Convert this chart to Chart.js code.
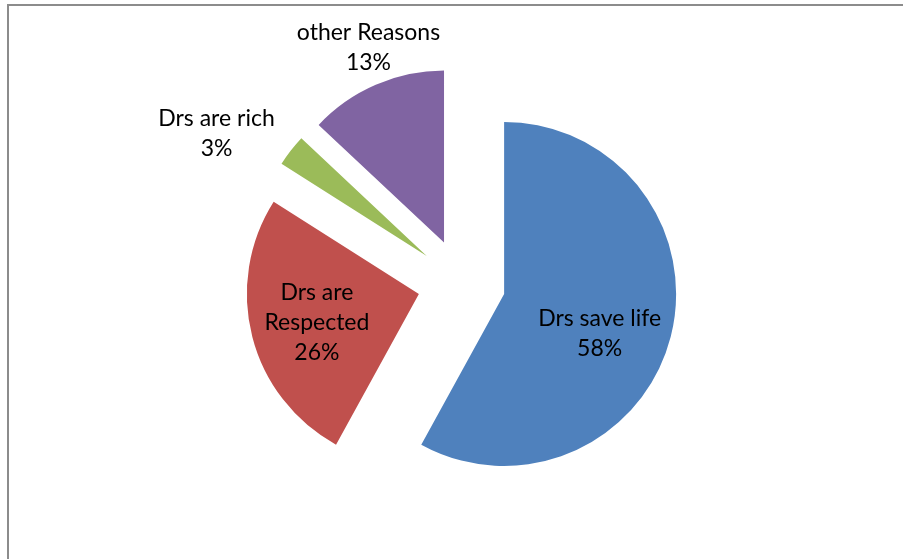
<!DOCTYPE html>
<html>
<head>
<meta charset="utf-8">
<script src="https://cdn.jsdelivr.net/npm/chart.js@4/dist/chart.umd.min.js"></script>
<style>
  html, body { margin: 0; padding: 0; background: #fff; }
  #wrap { position: relative; width: 903px; height: 559px; overflow: hidden; }
  /* cadre gris (haut + gauche) */
  #frame { position: absolute; left: 7px; top: 4px; width: 1000px; height: 700px;
           border-left: 2px solid #8c8c8c; border-top: 2px solid #8c8c8c; }
  canvas { position: absolute; left: 0; top: 0; }
</style>
</head>
<body>
<div id="wrap">
  <div id="frame"></div>
  <canvas id="pie" width="903" height="559"></canvas>
</div>
<script>
/* ---------- données ---------- */
const labels  = ['Drs save life', 'Drs are Respected', 'Drs are rich', 'other Reasons'];
const values  = [58, 26, 3, 13];
const colors  = ['#4f81bd', '#c0504d', '#9bbb59', '#8064a2'];

/* lignes des étiquettes, telles qu'affichées */
const labelLines = [['Drs save life'], ['Drs are', 'Respected'], ['Drs are rich'], ['other Reasons']];
/* position étiquette : fraction du rayon + petit décalage angulaire (degrés) */
const labelFrac = [0.60, 0.615, 1.417, 1.22];
const labelTurn = [7.8, -1, -7.4, 2.3];

const EXPLODE = 44;          // écartement des parts
const FONT_PX = 23;
const LINE_H  = 30;

/* parts éclatées : on dessine chaque arc décalé sur sa bissectrice */
const explodePlugin = {
  id: 'explode',
  beforeDatasetDraw(chart, args) {
    const ctx = chart.ctx;
    args.meta.data.forEach(arc => {
      const mid = (arc.startAngle + arc.endAngle) / 2;
      ctx.save();
      ctx.translate(Math.cos(mid) * EXPLODE, Math.sin(mid) * EXPLODE);
      arc.draw(ctx, chart.chartArea);
      ctx.restore();
    });
    return false;
  },
  afterDatasetsDraw(chart) {
    const ctx = chart.ctx;
    const meta = chart.getDatasetMeta(0);
    ctx.save();
    ctx.fillStyle = '#000';
    ctx.font = `${FONT_PX}px Lato, "Open Sans", sans-serif`;
    ctx.textAlign = 'center';
    ctx.textBaseline = 'alphabetic';
    const capH = FONT_PX * 0.7165;
    meta.data.forEach((arc, i) => {
      const mid = (arc.startAngle + arc.endAngle) / 2;
      const cx = arc.x + Math.cos(mid) * EXPLODE;
      const cy = arc.y + Math.sin(mid) * EXPLODE;
      const a = mid + labelTurn[i] * Math.PI / 180;
      const r = arc.outerRadius * labelFrac[i];
      const lx = cx + Math.cos(a) * r;
      const ly = cy + Math.sin(a) * r;
      const lines = [...labelLines[i], values[i] + '%'];
      const n = lines.length;
      const y0 = ly + capH / 2 - (n - 1) * LINE_H / 2;
      lines.forEach((t, k) => ctx.fillText(t, lx, y0 + k * LINE_H));
    });
    ctx.restore();
  }
};

new Chart(document.getElementById('pie'), {
  type: 'pie',
  data: {
    labels,
    datasets: [{ data: values, backgroundColor: colors, borderWidth: 0, hoverOffset: 0 }]
  },
  options: {
    responsive: false,
    animation: false,
    layout: { padding: { top: 111, bottom: 104, left: 103, right: 83 } },
    plugins: { legend: { display: false }, tooltip: { enabled: false } },
    events: []
  },
  plugins: [explodePlugin]
});
</script>
</body>
</html>
